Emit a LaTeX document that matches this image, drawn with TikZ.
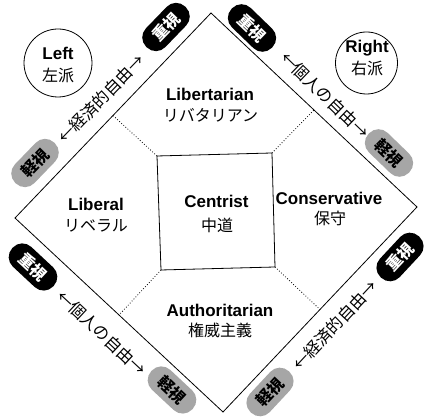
\documentclass[tikz,border=0pt]{standalone}
\usepackage{fontspec}
\setmainfont{Liberation Sans}
\newfontfamily\jp{Noto Sans CJK JP}
\usetikzlibrary{calc}
\begin{document}
\begin{tikzpicture}[x=1pt,y=1pt,
  edge/.style={line width=0.8pt},
  en/.style={font=\fontsize{17}{17}\selectfont\bfseries, inner sep=0pt, anchor=base},
  jn/.style={font=\jp\fontsize{16}{16}\selectfont, inner sep=0pt},
  axislabel/.style={font=\jp\fontsize{16.5}{16.5}\selectfont, inner sep=0pt},
  pillA/.style={fill=black, text=white, rounded corners=13pt, minimum width=56pt, minimum height=27pt, inner sep=0pt, font=\jp\bfseries\fontsize{16}{16}\selectfont},
  pillB/.style={pillA, fill=gray!70, text=black},
  circ/.style={circle, draw, line width=0.8pt, inner sep=0pt}]
\fill[white] (0,0) rectangle (424,419);
\useasboundingbox (0,0) rectangle (424,419);
% diamond
\coordinate (T) at (211,406);
\coordinate (L) at (15,201);
\coordinate (R) at (417,212);
\coordinate (B) at (223,7);
\draw[edge] (T) -- (R) -- (B) -- (L) -- cycle;
% center square
\coordinate (s1) at (157,263);
\coordinate (s2) at (272,266);
\coordinate (s3) at (275,152);
\coordinate (s4) at (161,149);
\draw[edge] (s1) -- (s2) -- (s3) -- (s4) -- cycle;
\coordinate (mTL) at ($(L)!0.5!(T)$);
\coordinate (mTR) at ($(T)!0.5!(R)$);
\coordinate (mBR) at ($(R)!0.5!(B)$);
\coordinate (mBL) at ($(B)!0.5!(L)$);
\draw[dotted, line width=0.8pt] (s1) -- (mTL);
\draw[dotted, line width=0.8pt] (s2) -- (mTR);
\draw[dotted, line width=0.8pt] (s3) -- (mBR);
\draw[dotted, line width=0.8pt] (s4) -- (mBL);
% region labels
\node[en] (lib) at (210,318) {Libertarian};
\node[jn] (libj) at (210.5,304) {リバタリアン};
\node[en] (liberal) at (96,208) {Liberal};
\node[jn] (liberalj) at (96,193) {リベラル};
\node[en] (cen) at (216.5,211) {Centrist};
\node[jn] (cenj) at (217,194) {中道};
\node[en] (con) at (329,214) {Conservative};
\node[jn] (conj) at (330,200.5) {保守};
\node[en] (aut) at (220,102) {Authoritarian};
\node[jn] (autj) at (220,88.5) {権威主義};
% circles
\node[circ, minimum size=68pt] (lc) at (58,356) {};
\node[en] (lct) at (58,359) {Left};
\node[jn] (lcj) at (58,344) {左派};
\node[circ, minimum size=62pt] (rc) at (366.5,356) {};
\node[en] (rct) at (367,366) {Right};
\node[jn] (rcj) at (367,350.5) {右派};
% top-left axis
\node[pillA, rotate=46] (p1) at (166,392) {重視};
\node[pillB, rotate=46] (p2) at (35,256) {軽視};
\node[axislabel, rotate=46] (a1) at (101,320) {←経済的自由→};
% top-right axis
\node[pillA, rotate=-44] (p3) at (252,391) {重視};
\node[pillB, rotate=-44] (p4) at (389,266) {軽視};
\node[axislabel, rotate=-44] (a2) at (325,324) {←個人の自由→};
% bottom-left axis
\node[pillA, rotate=-43] (p5) at (33,152) {重視};
\node[pillB, rotate=-43] (p6) at (172,29) {軽視};
\node[axislabel, rotate=-43] (a3) at (102,86) {←個人の自由→};
% bottom-right axis
\node[pillA, rotate=47] (p7) at (400,162) {重視};
\node[pillB, rotate=47] (p8) at (270,27) {軽視};
\node[axislabel, rotate=47] (a4) at (335,94) {←経済的自由→};
\end{tikzpicture}
\end{document}
